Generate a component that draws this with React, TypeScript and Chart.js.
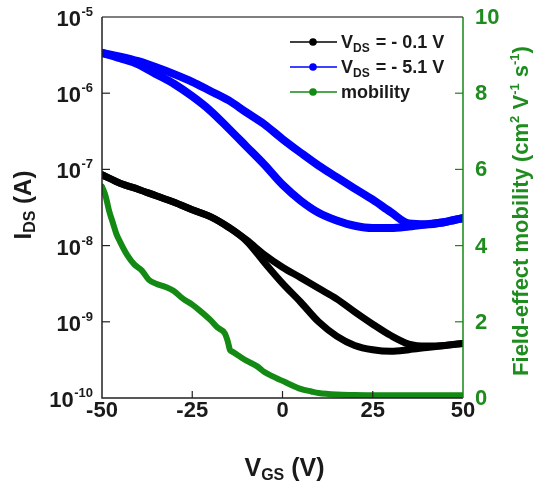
import React, { useEffect, useRef } from "react";
import { Chart, registerables } from "chart.js";
Chart.register(...registerables);

// ---------- data ----------
const vgsGrid = [-50, -45, -40, -35, -30, -25, -20, -15, -10, -5, 0, 5, 10, 15, 20, 25, 30, 35, 40, 45, 50];

// VDS = -5.1 V (two sweep branches of the hysteresis loop), IDS in A
const ids51BranchLow = [3.39e-6, 2.88e-6, 2.4e-6, 1.78e-6, 1.32e-6, 9.1e-7, 5.9e-7, 3.47e-7, 2.0e-7, 1.15e-7, 6.3e-8, 3.9e-8, 2.7e-8, 2.14e-8, 1.82e-8, 1.7e-8, 1.7e-8, 1.78e-8, 1.9e-8, 2.04e-8, 2.3e-8];
const ids51BranchHigh = [3.39e-6, 3.02e-6, 2.63e-6, 2.19e-6, 1.78e-6, 1.41e-6, 1.07e-6, 8.1e-7, 5.6e-7, 3.9e-7, 2.5e-7, 1.66e-7, 1.12e-7, 7.9e-8, 5.6e-8, 4.0e-8, 2.75e-8, 1.95e-8, 1.9e-8, 2.04e-8, 2.3e-8];

// VDS = -0.1 V
const ids01BranchLow = [8.5e-8, 6.6e-8, 5.5e-8, 4.5e-8, 3.7e-8, 2.95e-8, 2.4e-8, 1.74e-8, 1.15e-8, 6.0e-9, 3.2e-9, 1.82e-9, 1.0e-9, 6.5e-10, 4.9e-10, 4.3e-10, 4.1e-10, 4.3e-10, 4.6e-10, 4.9e-10, 5.2e-10];
const ids01BranchHigh = [8.5e-8, 6.6e-8, 5.5e-8, 4.5e-8, 3.7e-8, 2.95e-8, 2.4e-8, 1.76e-8, 1.19e-8, 7.6e-9, 5.2e-9, 3.8e-9, 2.75e-9, 2.0e-9, 1.35e-9, 9.3e-10, 6.6e-10, 5.1e-10, 4.8e-10, 4.9e-10, 5.2e-10];

// field-effect mobility (cm2 V-1 s-1)
const mobilityVgs = [-50, -49, -48, -47, -46, -45, -43, -41, -39, -37, -35, -32, -30, -27.5, -25, -23, -20, -18, -16, -15.2, -14.5, -14, -12, -10, -7, -5, -3, 0, 2, 5, 8, 10, 15, 20, 30, 40, 50];
const mobilityValues = [5.55, 5.3, 4.9, 4.6, 4.3, 4.1, 3.75, 3.5, 3.35, 3.1, 3.0, 2.9, 2.8, 2.6, 2.45, 2.3, 2.05, 1.85, 1.7, 1.5, 1.25, 1.22, 1.1, 0.98, 0.83, 0.68, 0.58, 0.45, 0.36, 0.24, 0.17, 0.13, 0.09, 0.08, 0.07, 0.07, 0.07];

const xTicks = [-50, -25, 0, 25, 50];
const yExponents = [-10, -9, -8, -7, -6, -5];
const y2Ticks = [0, 2, 4, 6, 8, 10];
const legendSuffix = [" = - 0.1 V", " = - 5.1 V", "mobility"];

// ---------- styles ----------
const BLUE = "#0000ff";
const BLACK = "#000000";
const GREEN = "#138a13";
const GREEN_TEXT = "#1f8c1f";
const FONT = "'Liberation Sans', Arial, sans-serif";

const pts = (v: number[], a: number[]) => v.map((x, i) => ({ x, y: a[i] }));

const decor = {
  id: "decor",
  afterDatasetsDraw(chart: any) {
    const ctx: CanvasRenderingContext2D = chart.ctx;
    const { left, right, top, bottom } = chart.chartArea;
    const xs = chart.scales.x;
    const ys = chart.scales.y;
    const y2s = chart.scales.y2;
    ctx.save();

    // frame
    ctx.lineWidth = 1.5;
    ctx.strokeStyle = "#555";
    ctx.beginPath();
    ctx.moveTo(left, top);
    ctx.lineTo(right, top);
    ctx.stroke();
    ctx.strokeStyle = "#222";
    ctx.beginPath();
    ctx.moveTo(left, top);
    ctx.lineTo(left, bottom);
    ctx.lineTo(right, bottom);
    ctx.stroke();
    ctx.strokeStyle = GREEN;
    ctx.beginPath();
    ctx.moveTo(right, top);
    ctx.lineTo(right, bottom);
    ctx.stroke();

    // inward ticks
    ctx.lineWidth = 1.2;
    ctx.strokeStyle = "#222";
    xTicks.forEach((t) => {
      if (t === -50 || t === 50) return;
      const px = xs.getPixelForValue(t);
      ctx.beginPath();
      ctx.moveTo(px, bottom);
      ctx.lineTo(px, bottom - 7);
      ctx.stroke();
    });
    yExponents.forEach((e) => {
      if (e === -10 || e === -5) return;
      const py = ys.getPixelForValue(Math.pow(10, e));
      ctx.beginPath();
      ctx.moveTo(left, py);
      ctx.lineTo(left + 8, py);
      ctx.stroke();
    });
    ctx.strokeStyle = GREEN;
    y2Ticks.forEach((t) => {
      if (t === 0 || t === 10) return;
      const py = y2s.getPixelForValue(t);
      ctx.beginPath();
      ctx.moveTo(right, py);
      ctx.lineTo(right - 8, py);
      ctx.stroke();
    });

    // x tick labels
    ctx.fillStyle = "#1a1a1a";
    ctx.font = `bold 22px ${FONT}`;
    ctx.textAlign = "center";
    ctx.textBaseline = "middle";
    xTicks.forEach((t) => {
      ctx.fillText(String(t), xs.getPixelForValue(t), bottom + 13);
    });

    // left log tick labels 10^n
    const rightEdge = 93;
    yExponents.forEach((e) => {
      const py = ys.getPixelForValue(Math.pow(10, e));
      const expStr = String(e);
      ctx.font = `bold 13px ${FONT}`;
      const we = ctx.measureText(expStr).width;
      ctx.textAlign = "left";
      ctx.textBaseline = "alphabetic";
      ctx.fillText(expStr, rightEdge - we, py - 1);
      ctx.font = `bold 22px ${FONT}`;
      ctx.textAlign = "right";
      ctx.textBaseline = "middle";
      ctx.fillText("10", rightEdge - we - 0.5, py + 3);
    });

    // right tick labels
    ctx.fillStyle = GREEN_TEXT;
    ctx.font = `bold 22px ${FONT}`;
    ctx.textAlign = "left";
    ctx.textBaseline = "middle";
    y2Ticks.forEach((t) => {
      ctx.fillText(String(t), right + 12, y2s.getPixelForValue(t) + 1);
    });

    // helper to draw rich text segments: [text, size, dy]
    const drawRich = (segs: [string, number, number][], cx: number, cy: number, color: string) => {
      ctx.fillStyle = color;
      ctx.textAlign = "left";
      ctx.textBaseline = "alphabetic";
      let total = 0;
      segs.forEach(([s, sz]) => {
        ctx.font = `bold ${sz}px ${FONT}`;
        total += ctx.measureText(s).width;
      });
      let x = cx - total / 2;
      segs.forEach(([s, sz, dy]) => {
        ctx.font = `bold ${sz}px ${FONT}`;
        ctx.fillText(s, x, cy + dy);
        x += ctx.measureText(s).width;
      });
    };

    // x title
    drawRich(
      [
        ["V", 25, 0],
        ["GS", 16, 4],
        [" (V)", 25, 0],
      ],
      (left + right) / 2 + 2,
      476,
      "#1a1a1a"
    );

    // left title (rotated)
    ctx.save();
    ctx.translate(31, 205);
    ctx.rotate(-Math.PI / 2);
    drawRich(
      [
        ["I", 24, 0],
        ["DS", 16, 4],
        [" (A)", 24, 0],
      ],
      0,
      0,
      "#1a1a1a"
    );
    ctx.restore();

    // right title (rotated)
    ctx.save();
    ctx.translate(528, 211);
    ctx.rotate(-Math.PI / 2);
    drawRich(
      [
        ["Field-effect mobility (cm", 22, 0],
        ["2", 13, -9],
        [" V", 22, 0],
        ["-1", 13, -9],
        [" s", 22, 0],
        ["-1", 13, -9],
        [")", 22, 0],
      ],
      0,
      0,
      GREEN_TEXT
    );
    ctx.restore();

    // legend
    const colors = [BLACK, BLUE, GREEN];
    const rowY = [42, 67, 92];
    colors.forEach((c, i) => {
      const yy = rowY[i];
      ctx.strokeStyle = c;
      ctx.lineWidth = 1.5;
      ctx.beginPath();
      ctx.moveTo(290, yy);
      ctx.lineTo(337, yy);
      ctx.stroke();
      ctx.fillStyle = c;
      ctx.beginPath();
      ctx.arc(313, yy, 3.8, 0, Math.PI * 2);
      ctx.fill();
      ctx.fillStyle = "#1a1a1a";
      ctx.textAlign = "left";
      ctx.textBaseline = "alphabetic";
      let x = 341;
      if (i < 2) {
        ctx.font = `bold 18px ${FONT}`;
        ctx.fillText("V", x, yy + 6);
        x += ctx.measureText("V").width;
        ctx.font = `bold 12px ${FONT}`;
        ctx.fillText("DS", x, yy + 10);
        x += ctx.measureText("DS").width + 1;
        ctx.font = `bold 18px ${FONT}`;
        ctx.fillText(legendSuffix[i], x, yy + 6);
      } else {
        ctx.font = `bold 18px ${FONT}`;
        ctx.fillText(legendSuffix[i], x, yy + 6);
      }
    });

    ctx.restore();
  },
};

export default function App() {
  const ref = useRef<HTMLCanvasElement | null>(null);
  useEffect(() => {
    if (!ref.current) return;
    const common = {
      pointRadius: 0,
      borderJoinStyle: "round" as const,
      borderCapStyle: "round" as const,
      cubicInterpolationMode: "monotone" as const,
      fill: false,
    };
    const chart = new Chart(ref.current, {
      type: "line",
      data: {
        datasets: [
          { ...common, label: "VDS = -0.1 V (a)", data: pts(vgsGrid, ids01BranchLow), borderColor: BLACK, borderWidth: 7, yAxisID: "y" },
          { ...common, label: "VDS = -0.1 V (b)", data: pts(vgsGrid, ids01BranchHigh), borderColor: BLACK, borderWidth: 7, yAxisID: "y" },
          { ...common, label: "VDS = -5.1 V (a)", data: pts(vgsGrid, ids51BranchLow), borderColor: BLUE, borderWidth: 8, yAxisID: "y" },
          { ...common, label: "VDS = -5.1 V (b)", data: pts(vgsGrid, ids51BranchHigh), borderColor: BLUE, borderWidth: 8, yAxisID: "y" },
          { ...common, label: "mobility", data: pts(mobilityVgs, mobilityValues), borderColor: GREEN, borderWidth: 6, yAxisID: "y2" },
        ],
      },
      options: {
        animation: false,
        responsive: false,
        devicePixelRatio: 1,
        layout: { padding: { left: 102, right: 70, top: 17, bottom: 88 } },
        plugins: { legend: { display: false }, tooltip: { enabled: false } },
        scales: {
          x: { type: "linear", min: -50, max: 50, display: false },
          y: { type: "logarithmic", min: 1e-10, max: 1e-5, display: false },
          y2: { type: "linear", min: 0, max: 10, display: false, position: "right" },
        },
      },
      plugins: [decor],
    });
    return () => chart.destroy();
  }, []);
  return (
    <div style={{ position: "fixed", left: 0, top: 0, width: 533, height: 486, background: "#fff" }}>
      <canvas ref={ref} width={533} height={486} style={{ display: "block" }} />
    </div>
  );
}
